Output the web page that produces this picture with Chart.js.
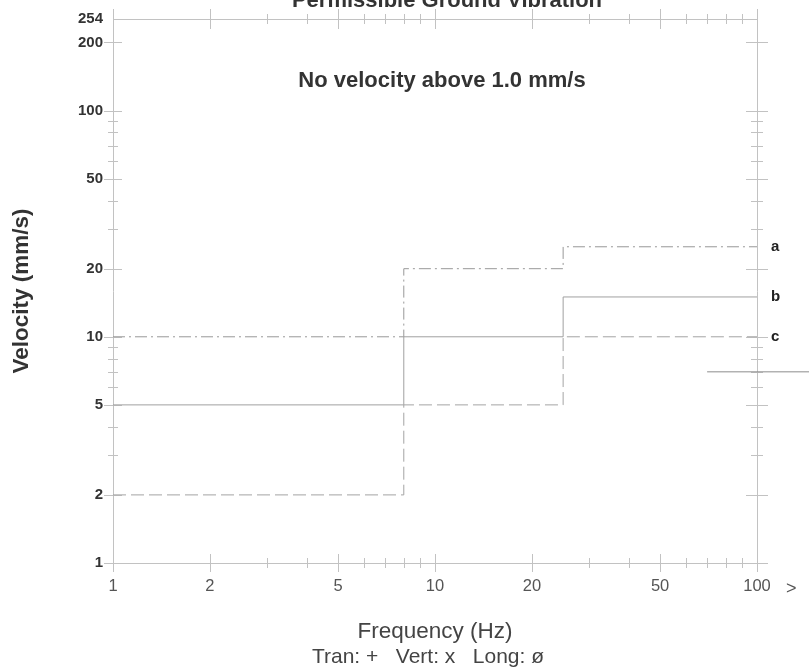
<!DOCTYPE html>
<html>
<head>
<meta charset="utf-8">
<script src="https://cdn.jsdelivr.net/npm/chart.js@4.4.1/dist/chart.umd.min.js"></script>
<style>
  html, body { margin: 0; padding: 0; background: #ffffff; }
  #wrap { width: 809px; height: 672px; position: relative; }
</style>
</head>
<body>
<div id="wrap"><canvas id="chart" width="809" height="672"></canvas></div>
<script>
// Step limits: frequency break points (Hz) and velocity limit (mm/s) from each break onwards
const freqBreaks = [1, 8, 25, 100];
const curveA = [10, 20, 25, 25];
const curveB = [5, 10, 15, 15];
const curveC = [2, 5, 10, 10];
const curveNames = ['a', 'b', 'c'];

// Short level marker running past 100 Hz
const tailFreq = [70, 150];
const tailVel = [7, 7];

// Axis ticks
const xTicks = [1, 2, 5, 10, 20, 50, 100];
const xMinorTicks = [3, 4, 6, 7, 8, 9, 30, 40, 60, 70, 80, 90];
const yTicks = [1, 2, 5, 10, 20, 50, 100, 200, 254];
const yMinorTicks = [3, 4, 6, 7, 8, 9, 30, 40, 60, 70, 80, 90];

const FONT = "'Liberation Sans', Arial, sans-serif";
const AXIS_COLOR = '#c2c2c2';

function stepPoints(values) {
  return freqBreaks.map((f, i) => ({ x: f, y: values[i] }));
}

// Frame, tick crosses and free text around the plot
const decorPlugin = {
  id: 'decor',
  beforeDatasetsDraw(chart) {
    const { ctx, chartArea: a, scales: { x, y } } = chart;
    ctx.save();
    ctx.strokeStyle = AXIS_COLOR;
    ctx.lineWidth = 1;
    ctx.beginPath();
    ctx.rect(Math.round(a.left) + 0.5, Math.round(a.top) + 0.5,
             Math.round(a.right - a.left), Math.round(a.bottom - a.top));
    ctx.stroke();

    const cross = (px, py, horiz, len) => {
      ctx.beginPath();
      if (horiz) { ctx.moveTo(px - len, Math.round(py) + 0.5); ctx.lineTo(px + len, Math.round(py) + 0.5); }
      else { ctx.moveTo(Math.round(px) + 0.5, py - len); ctx.lineTo(Math.round(px) + 0.5, py + len); }
      ctx.stroke();
    };
    xTicks.forEach(v => { const px = x.getPixelForValue(v); cross(px, a.bottom, false, 9); cross(px, a.top, false, 10); });
    xMinorTicks.forEach(v => { const px = x.getPixelForValue(v); cross(px, a.bottom, false, 5); cross(px, a.top, false, 5); });
    yTicks.filter(v => v < 254).forEach(v => { const py = y.getPixelForValue(v); cross(a.left, py, true, 9); cross(a.right, py, true, 11); });
    yMinorTicks.forEach(v => { const py = y.getPixelForValue(v); cross(a.left, py, true, 5); cross(a.right, py, true, 6); });
    ctx.restore();
  },
  afterDraw(chart) {
    const { ctx, chartArea: a, scales: { x, y } } = chart;
    ctx.save();
    ctx.textAlign = 'center';
    ctx.textBaseline = 'alphabetic';
    ctx.fillStyle = '#333';
    ctx.font = 'bold 22px ' + FONT;
    ctx.fillText('Permissible Ground Vibration', 447, 7);
    ctx.fillText('No velocity above 1.0 mm/s', 442, 87);

    // curve names at the right edge
    ctx.textAlign = 'left';
    ctx.textBaseline = 'middle';
    ctx.font = 'bold 15px ' + FONT;
    ctx.fillStyle = '#222';
    [curveA, curveB, curveC].forEach((c, i) => {
      ctx.fillText(curveNames[i], a.right + 14, y.getPixelForValue(c[c.length - 1]));
    });

    // overflow marker after the last frequency tick
    ctx.font = '18px ' + FONT;
    ctx.fillStyle = '#555';
    ctx.fillText('>', a.right + 29, a.bottom + 26);

    // component symbol key
    ctx.textAlign = 'center';
    ctx.font = '21px ' + FONT;
    ctx.fillStyle = '#444';
    ctx.fillText('Tran: +   Vert: x   Long: \u00f8', 428, 657);
    ctx.restore();
  }
};

const lineBase = { showLine: true, stepped: true, pointRadius: 0, borderWidth: 1, fill: false };

new Chart(document.getElementById('chart').getContext('2d'), {
  type: 'scatter',
  data: {
    datasets: [
      Object.assign({ label: curveNames[0], data: stepPoints(curveA), borderColor: '#989898', borderDash: [12, 4, 2, 4] }, lineBase),
      Object.assign({ label: curveNames[1], data: stepPoints(curveB), borderColor: '#a0a0a0', borderDash: [] }, lineBase),
      Object.assign({ label: curveNames[2], data: stepPoints(curveC), borderColor: '#a4a4a4', borderDash: [13, 5] }, lineBase),
      { label: '', data: tailFreq.map((f, i) => ({ x: f, y: tailVel[i] })), showLine: true, pointRadius: 0,
        borderWidth: 1, borderColor: '#8c8c8c', clip: false }
    ]
  },
  options: {
    responsive: false,
    animation: false,
    layout: { padding: { top: 12, right: 52, left: 0, bottom: 0 } },
    plugins: { legend: { display: false }, tooltip: { enabled: false } },
    scales: {
      x: {
        type: 'logarithmic', min: 1, max: 100,
        afterBuildTicks: s => { s.ticks = xTicks.map(v => ({ value: v })); },
        afterFit: s => { s.height = 109; },
        grid: { display: false, drawTicks: false },
        border: { display: false },
        ticks: { padding: 14, autoSkip: false, maxRotation: 0, color: '#555',
                 font: { family: FONT, size: 16.5 }, callback: v => String(v) },
        title: { display: true, text: 'Frequency (Hz)', color: '#444',
                 font: { family: FONT, size: 22.5 }, padding: { top: 0, bottom: 27 } }
      },
      y: {
        type: 'logarithmic', min: 1, max: 254,
        afterBuildTicks: s => { s.ticks = yTicks.map(v => ({ value: v })); },
        afterFit: s => { s.width = 113; },
        grid: { display: false, drawTicks: false },
        border: { display: false },
        ticks: { padding: 10, autoSkip: false, color: '#333',
                 font: { family: FONT, size: 15, weight: 'bold' }, callback: v => String(v) },
        title: { display: true, text: 'Velocity (mm/s)', color: '#333',
                 font: { family: FONT, size: 22.5, weight: 'bold' }, padding: { top: 8, bottom: 0 } }
      }
    }
  },
  plugins: [decorPlugin]
});
</script>
</body>
</html>
